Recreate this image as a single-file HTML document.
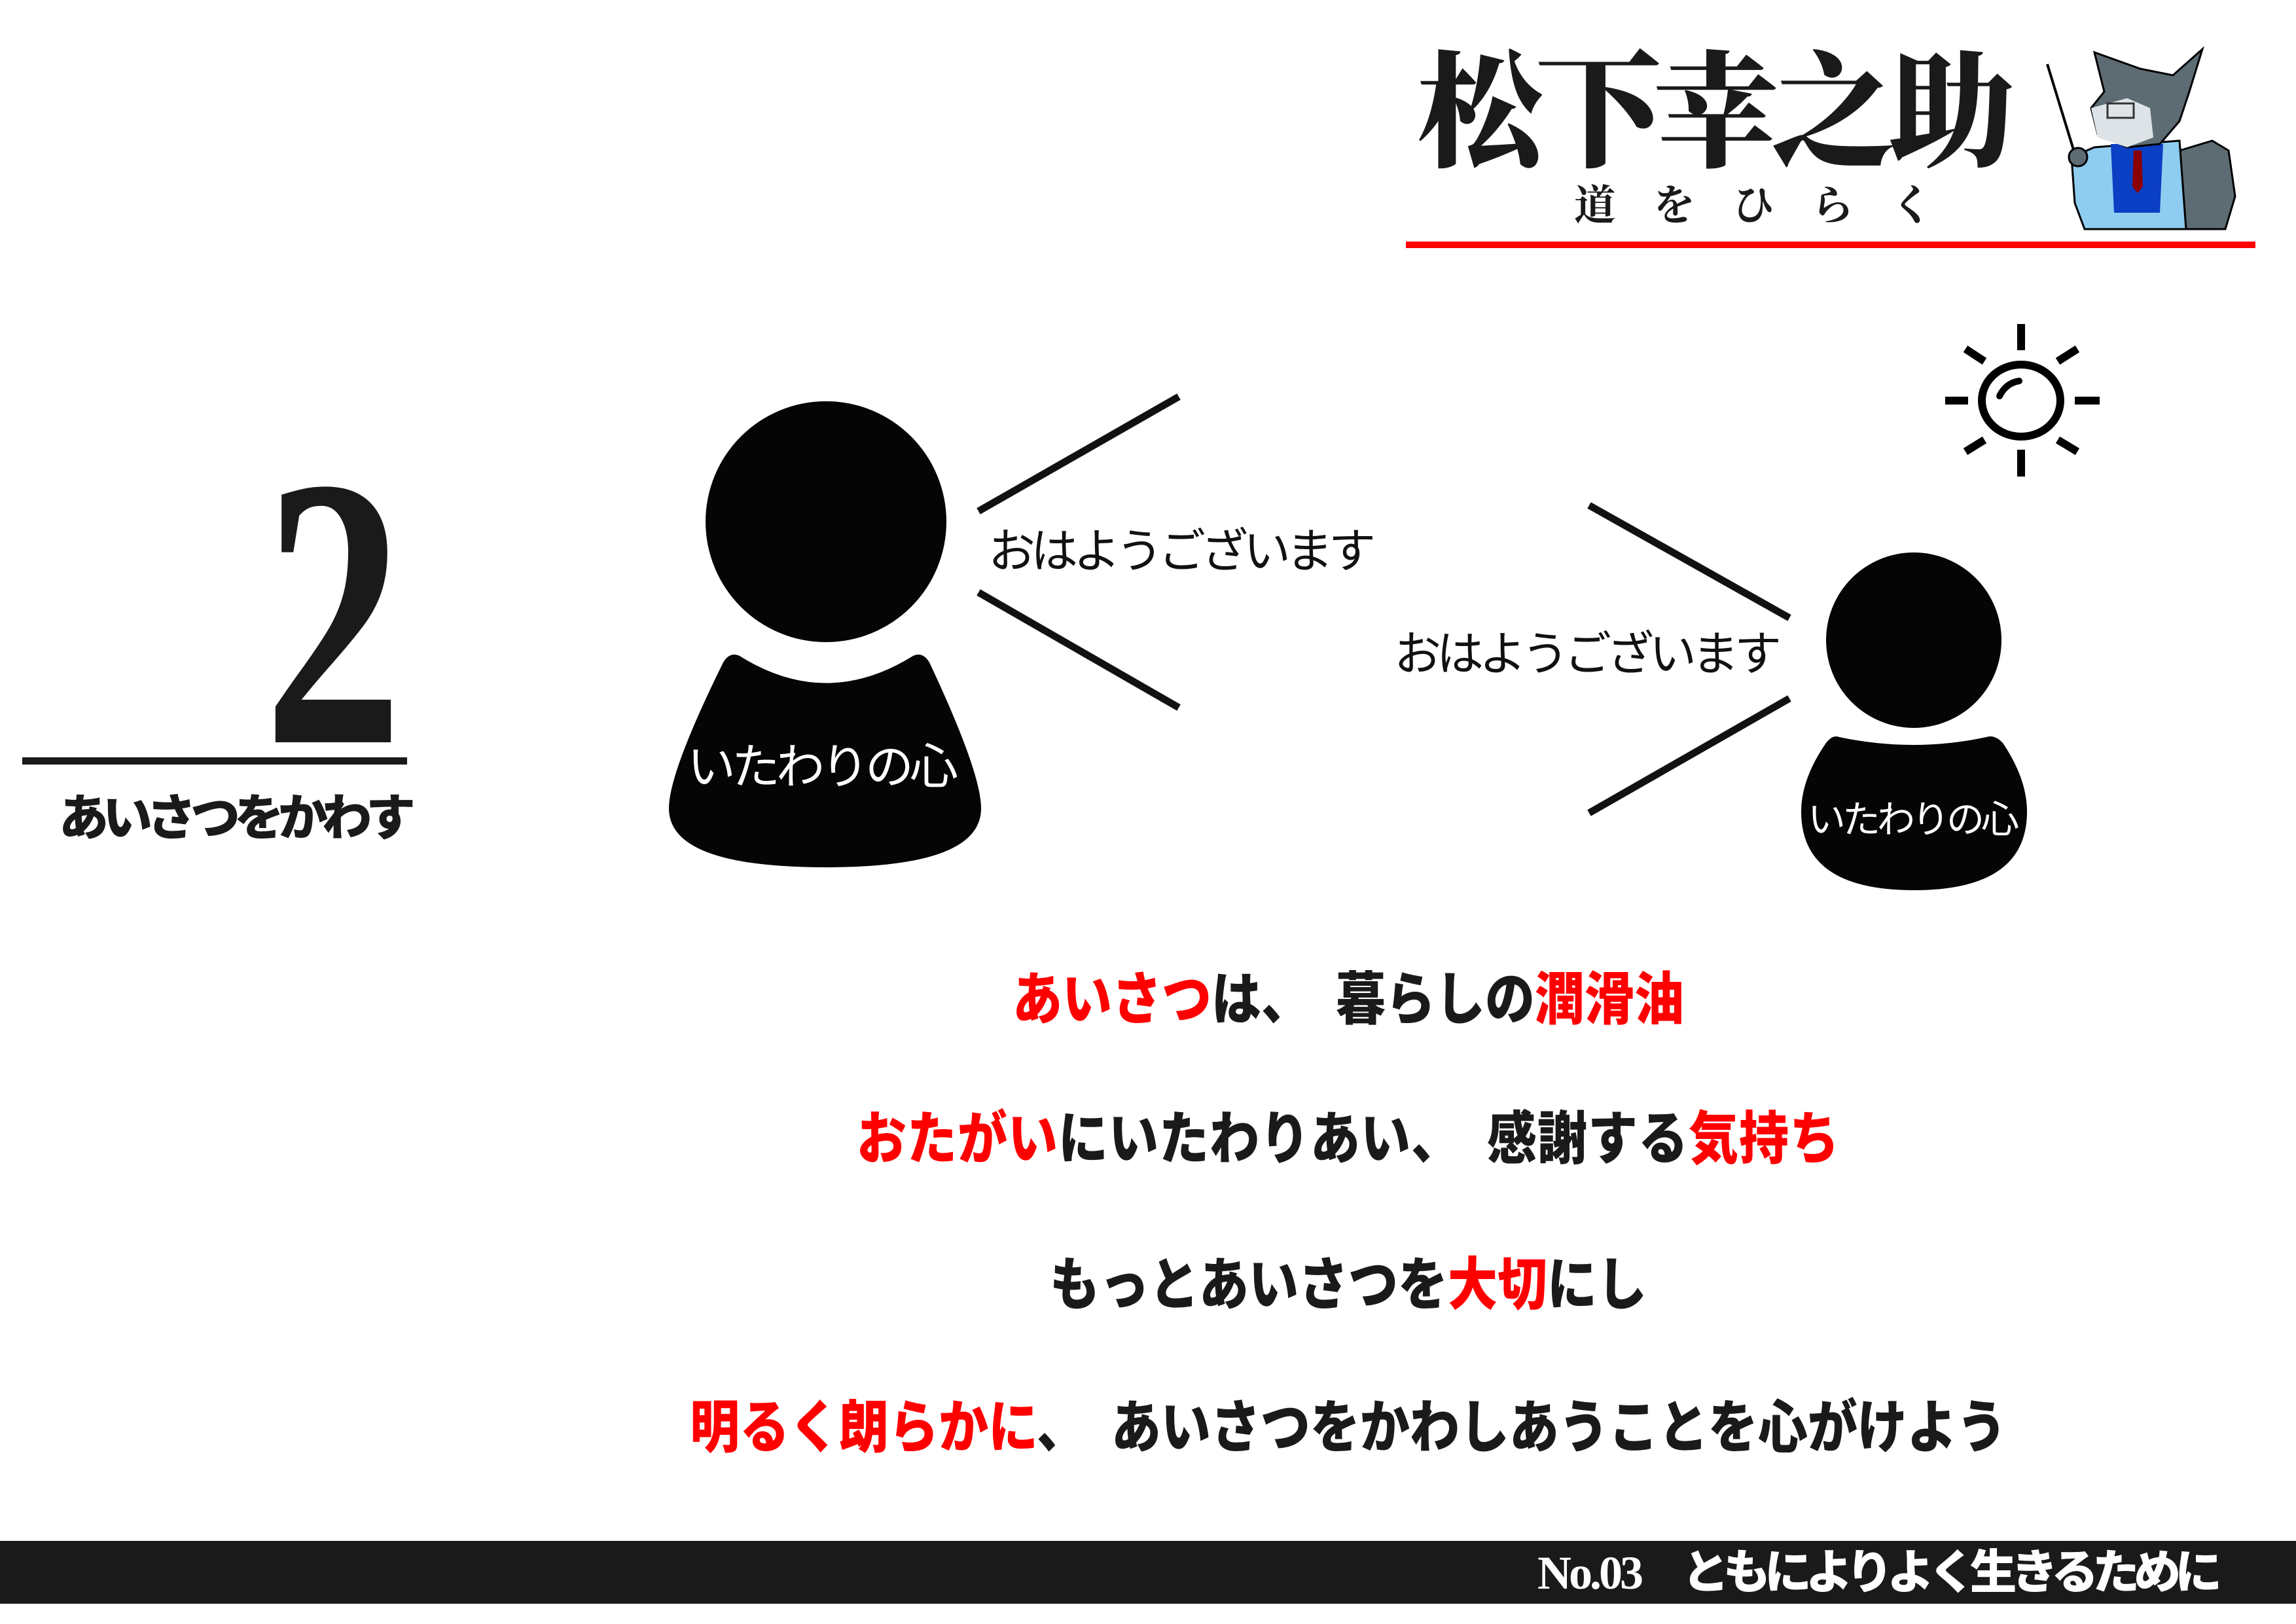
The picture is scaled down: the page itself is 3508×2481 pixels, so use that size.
<!DOCTYPE html>
<html><head><meta charset="utf-8"><style>
html,body{margin:0;padding:0;background:#fff;}
body{width:3508px;height:2481px;position:relative;overflow:hidden;font-family:"Liberation Sans","Noto Sans CJK JP",sans-serif;}
.t{position:absolute;white-space:nowrap;}
.body{font-family:"Liberation Sans","Noto Sans CJK JP",sans-serif;font-weight:900;font-size:76px;line-height:1;color:#1a1a1a;left:0;width:4120px;text-align:center;transform:scaleY(1.15);}
.r{color:#f00;}
</style></head><body>
<svg width="3508" height="2481" style="position:absolute;left:0;top:0">
<rect x="2148" y="369" width="1298" height="10" fill="#f00"/>
<!-- wolf simplified -->
<g>
<line x1="3128" y1="98" x2="3170" y2="235" stroke="#000" stroke-width="4"/>
<path d="M3330,230 L3380,215 L3405,230 L3415,300 L3400,350 L3330,350 Z" fill="#5d6b73" stroke="#000" stroke-width="3"/>
<path d="M3165,240 L3200,225 L3330,215 L3340,350 L3185,350 L3170,310 Z" fill="#8fcdf0" stroke="#000" stroke-width="3"/>
<path d="M3225,220 L3305,220 L3300,325 L3230,325 Z" fill="#0b3fc4"/>
<path d="M3260,230 L3272,230 L3274,285 L3266,295 L3258,285 Z" fill="#8b0000"/>
<path d="M3200,80 L3215,140 L3195,165 L3205,205 L3250,225 L3300,220 L3330,185 L3345,140 L3365,75 L3320,115 L3270,105 Z" fill="#5d6b73" stroke="#000" stroke-width="3"/>
<path d="M3195,165 L3250,150 L3285,165 L3290,210 L3250,225 L3205,210 Z" fill="#dde3e6"/>
<rect x="3220" y="158" width="40" height="22" fill="none" stroke="#333" stroke-width="3"/>
<circle cx="3175" cy="240" r="14" fill="#5d6b73" stroke="#000" stroke-width="3"/>
</g>
<!-- sun -->
<g stroke="#000" stroke-width="12" fill="none">
<ellipse cx="3088" cy="612" rx="60" ry="55" stroke-width="12"/>
<path d="M3055,605 Q3065,585 3085,582" stroke-width="10" stroke-linecap="round"/>
<line x1="3088" y1="495" x2="3088" y2="535"/>
<line x1="3088" y1="687" x2="3088" y2="728"/>
<line x1="2972" y1="612" x2="3007" y2="612"/>
<line x1="3170" y1="612" x2="3208" y2="612"/>
<line x1="3003" y1="533" x2="3032" y2="552"/>
<line x1="3144" y1="552" x2="3174" y2="533"/>
<line x1="3003" y1="690" x2="3032" y2="672"/>
<line x1="3144" y1="672" x2="3174" y2="690"/>
</g>
<rect x="34" y="1157" width="588" height="11" fill="#1a1a1a"/>
<!-- person 1 -->
<ellipse cx="1262" cy="797" rx="184" ry="184" fill="#050505"/>
<path d="M1130,1002 Q1262,1085 1395,1002 Q1410,995 1420,1012 Q1499,1180 1499,1235 Q1499,1325 1262,1325 Q1022,1325 1022,1235 Q1022,1180 1105,1012 Q1115,995 1130,1002 Z" fill="#050505"/>
<g stroke="#111" stroke-width="11">
<line x1="1495" y1="781" x2="1801" y2="606"/>
<line x1="1495" y1="905" x2="1801" y2="1081"/>
<line x1="2428" y1="772" x2="2734" y2="944"/>
<line x1="2428" y1="1242" x2="2734" y2="1067"/>
</g>
<!-- person 2 -->
<ellipse cx="2924" cy="978" rx="134" ry="134" fill="#050505"/>
<path d="M2810,1126 Q2924,1150 3035,1126 Q3048,1122 3060,1135 Q3097,1190 3097,1240 Q3097,1360 2924,1360 Q2752,1360 2752,1240 Q2752,1190 2790,1135 Q2800,1122 2810,1126 Z" fill="#050505"/>
<rect x="0" y="2354" width="3508" height="96" fill="#1a1a1a"/>
</svg>

<div class="t" style="left:2166px;top:60px;font-family:'Liberation Serif','Noto Serif CJK SC',serif;font-weight:900;font-size:192px;line-height:1.2;color:#1a1a1a;letter-spacing:-12px;">松下幸之助</div>
<div class="t" style="left:2405px;top:280px;font-family:'Liberation Serif','Noto Serif CJK SC',serif;font-weight:700;font-size:64px;line-height:1.1;color:#1a1a1a;letter-spacing:57px;">道をひらく</div>

<div class="t" style="left:403px;top:640px;font-family:'Liberation Serif',serif;font-weight:700;font-size:590px;line-height:1;color:#1a1a1a;transform:scaleX(0.72);transform-origin:left top;">2</div>
<div class="t" style="left:90px;top:1205px;font-family:'Liberation Sans','Noto Sans CJK JP',sans-serif;font-weight:900;font-size:76px;line-height:1.2;color:#1a1a1a;letter-spacing:-9px;">あいさつをかわす</div>

<div class="t" style="left:1050px;top:1128px;font-size:74px;line-height:1.2;color:#fff;letter-spacing:-6px;">いたわりの心</div>
<div class="t" style="left:2762px;top:1218px;font-size:58px;line-height:1.2;color:#fff;letter-spacing:-5px;">いたわりの心</div>

<div class="t" style="left:1510px;top:800px;font-size:72px;line-height:1.2;color:#111;letter-spacing:-7px;">おはようございます</div>
<div class="t" style="left:2130px;top:957px;font-size:72px;line-height:1.2;color:#111;letter-spacing:-7px;">おはようございます</div>

<div class="t body" style="top:1490px;"><span class="r">あいさつ</span>は、　暮らしの<span class="r">潤滑油</span></div>
<div class="t body" style="top:1703px;letter-spacing:1px;"><span class="r">おたがい</span>にいたわりあい、　感謝する<span class="r">気持ち</span></div>
<div class="t body" style="top:1926px;">もっとあいさつを<span class="r">大切</span>にし</div>
<div class="t body" style="top:2144px;"><span class="r">明るく朗らかに</span>、　あいさつをかわしあうことを心がけよう</div>

<div class="t" style="left:2349px;top:2360px;font-family:'Liberation Sans','Noto Sans CJK JP',sans-serif;font-weight:900;font-size:72px;line-height:1.2;color:#fff;letter-spacing:-9px;"><span style="font-family:'Liberation Serif',serif;font-weight:700;letter-spacing:-4px;">No.03</span>　ともによりよく生きるために</div>
</body></html>
